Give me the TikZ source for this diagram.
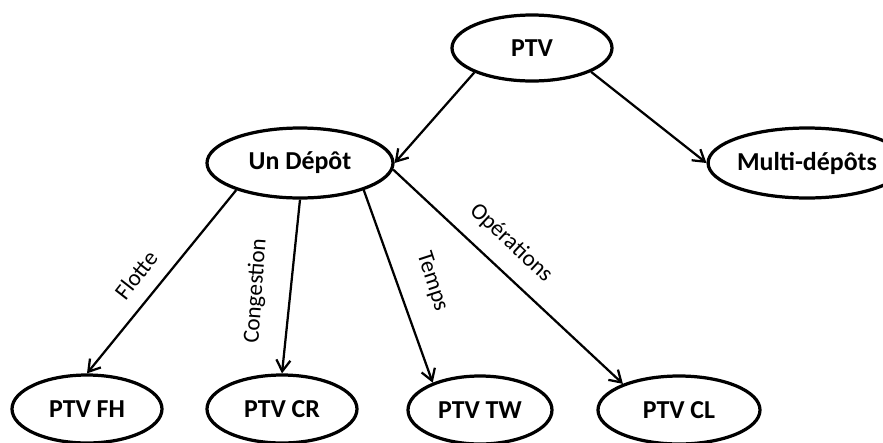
\documentclass[tikz,border=0pt]{standalone}
\usepackage{fontspec}
\setmainfont{Carlito}
\usepackage{tikz}
\usetikzlibrary{shapes.geometric,arrows.meta}

\begin{document}
\begin{tikzpicture}[state/.style={ellipse, draw, line width=2.3pt, inner sep=0pt, font=\fontsize{18.4}{20}\selectfont\bfseries},
  lbl/.style={inner sep=0pt, font=\fontsize{16.5}{18}\selectfont},
  arr/.style={line width=1.6pt, -{Straight Barb[length=8pt,width=10pt]}}]
\useasboundingbox (0,0) rectangle (22.075,-11.05);
\node[state, minimum width=4cm, minimum height=1.65cm] (ptv) at (13.3,-1.2) {PTV};
\node[state, minimum width=4.65cm, minimum height=1.75cm] (un) at (7.5,-4.075) {Un Dépôt};
\node[state, minimum width=3.75cm, minimum height=1.75cm] (multi) at (20.175,-4.075) {Multi-dépôts};
\node[state, minimum width=3.75cm, minimum height=1.7cm] (fh) at (2.175,-10.225) {PTV FH};
\node[state, minimum width=3.75cm, minimum height=1.7cm] (cr) at (7.05,-10.225) {PTV CR};
\node[state, minimum width=3.6cm, minimum height=1.7cm] (tw) at (12.0,-10.25) {PTV TW};
\node[state, minimum width=4.05cm, minimum height=1.7cm] (cl) at (16.975,-10.25) {PTV CL};

\node[lbl, rotate=52] (flotte) at (3.4,-6.875) {Flotte};
\node[lbl, rotate=86] (congestion) at (6.4,-7.275) {Congestion};
\node[lbl, rotate=-72] (temps) at (10.8,-7.05) {Temps};
\node[lbl, rotate=-43] (operations) at (12.775,-6.075) {Opérations};

\draw[arr] (ptv.203) -- (un.east);
\draw[arr] (ptv.-22) -- (multi.west);
\draw[arr] (un.203) -- (fh.north);
\draw[arr] (un.south) -- (cr.north);
\draw[arr] (un.-23) -- (tw.150);
\draw[arr] (un.-4) -- (cl.155);
\end{tikzpicture}
\end{document}
